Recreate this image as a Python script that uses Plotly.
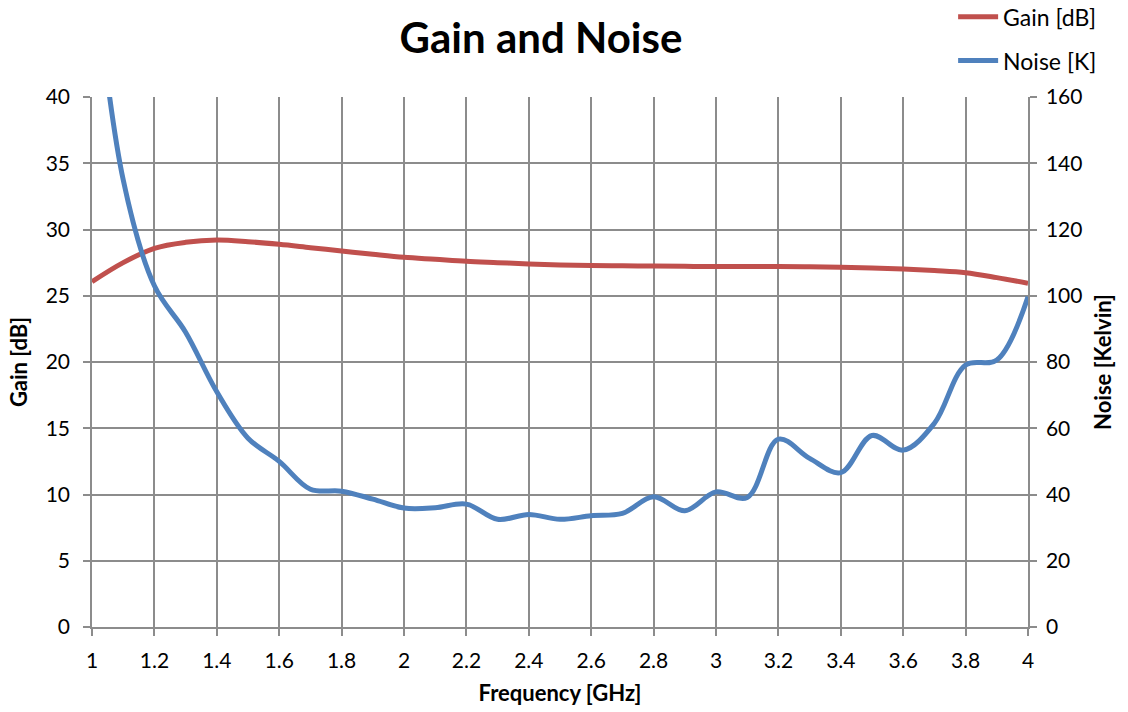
import plotly.graph_objects as go

freq_ghz = [1.0, 1.1, 1.2, 1.3, 1.4, 1.5, 1.6, 1.7, 1.8, 1.9,
            2.0, 2.1, 2.2, 2.3, 2.4, 2.5, 2.6, 2.7, 2.8, 2.9,
            3.0, 3.1, 3.2, 3.3, 3.4, 3.5, 3.6, 3.7, 3.8, 3.9, 4.0]

gain_db = [26.06, 27.5, 28.58, 29.03, 29.2, 29.08, 28.88, 28.63, 28.38, 28.13,
           27.9, 27.75, 27.6, 27.5, 27.4, 27.33, 27.28, 27.26, 27.24, 27.22,
           27.2, 27.2, 27.2, 27.18, 27.15, 27.1, 27.02, 26.9, 26.74, 26.37, 25.94]

noise_k = [205, 135, 103, 89, 71, 57, 50, 41.6, 41, 38.6,
           35.9, 36, 37.1, 32.5, 34, 32.5, 33.6, 34.3, 39.3, 35.1,
           40.8, 39.1, 56.7, 50.9, 46.6, 57.8, 53.4, 61.5, 79.1, 80.6, 99.7]

x_tickvals = [1, 1.2, 1.4, 1.6, 1.8, 2, 2.2, 2.4, 2.6, 2.8, 3, 3.2, 3.4, 3.6, 3.8, 4]
x_ticktext = ["1", "1.2", "1.4", "1.6", "1.8", "2", "2.2", "2.4", "2.6", "2.8",
              "3", "3.2", "3.4", "3.6", "3.8", "4"]

FONT = "Lato"
GRID = "#8c8c8c"

fig = go.Figure()
fig.add_trace(go.Scatter(
    x=freq_ghz, y=gain_db, name="Gain [dB]", mode="lines",
    line=dict(color="#C0504D", width=5, shape="spline", smoothing=1.0),
    legendgroup="g", yaxis="y"))
fig.add_trace(go.Scatter(
    x=freq_ghz, y=noise_k, name="Noise [K]", mode="lines",
    line=dict(color="#4F81BD", width=5, shape="spline", smoothing=1.0),
    legendgroup="n", yaxis="y2"))

axis_common = dict(
    showline=True, linecolor=GRID, linewidth=1.5,
    showgrid=True, gridcolor=GRID, gridwidth=1.5,
    ticks="outside", tickcolor=GRID, ticklen=7, tickwidth=1.5,
    tickfont=dict(family=FONT, size=21, color="#000000"),
    zeroline=False, automargin=False,
)

fig.update_layout(
    width=1128, height=712,
    paper_bgcolor="white", plot_bgcolor="white",
    margin=dict(l=92, r=100, t=97, b=85, autoexpand=False),
    font=dict(family=FONT, color="#000000"),
    title=dict(text="<b>Gain and Noise</b>", x=0.4796, xanchor="center",
               y=0.9466, yanchor="middle",
               font=dict(family=FONT, size=42, color="#000000")),
    xaxis=dict(range=[1, 4], tickvals=x_tickvals, ticktext=x_ticktext,
               ticklabelstandoff=7,
               title=dict(text="<b>Frequency [GHz]</b>", standoff=15,
                          font=dict(family=FONT, size=22)),
               **axis_common),
    yaxis=dict(range=[0, 40], dtick=5, ticklabelstandoff=9,
               title=dict(text="<b>Gain [dB]</b>", standoff=12,
                          font=dict(family=FONT, size=22)),
               **axis_common),
    yaxis2=dict(range=[0, 160], dtick=20, overlaying="y", side="right",
                ticklabelstandoff=5, showgrid=False,
                title=dict(text="<b>Noise [Kelvin]</b>", standoff=14,
                           font=dict(family=FONT, size=22)),
                **{k: v for k, v in axis_common.items() if k != "showgrid"}),
    legend=dict(x=0.92, y=1.192, xanchor="left", yanchor="top",
                bgcolor="rgba(0,0,0,0)", tracegroupgap=11,
                font=dict(family=FONT, size=23, color="#000000"),
                itemwidth=40),
    showlegend=True,
)

fig.write_html("out.html",
               config={"displayModeBar": False},
               post_script="document.body.style.margin='0px';")
